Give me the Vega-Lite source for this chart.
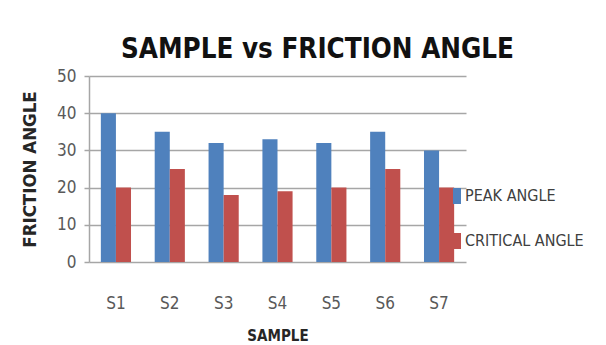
{
  "$schema": "https://vega.github.io/schema/vega-lite/v6.json",
  "width": 377,
  "height": 186,
  "autosize": {"type": "none"},
  "padding": {"left": 89, "top": 76, "right": 140, "bottom": 83},
  "background": "white",
  "title": {
    "text": "SAMPLE vs FRICTION ANGLE",
    "font": "DejaVu Sans Condensed, DejaVu Sans, sans-serif",
    "fontSize": 27.5,
    "fontWeight": "bold",
    "color": "#111111",
    "anchor": "middle",
    "dx": 40,
    "offset": 4
  },
  "data": {
    "values": [
      {"sample": "S1", "series": "PEAK ANGLE", "angle": 40},
      {"sample": "S1", "series": "CRITICAL ANGLE", "angle": 20},
      {"sample": "S2", "series": "PEAK ANGLE", "angle": 35},
      {"sample": "S2", "series": "CRITICAL ANGLE", "angle": 25},
      {"sample": "S3", "series": "PEAK ANGLE", "angle": 32},
      {"sample": "S3", "series": "CRITICAL ANGLE", "angle": 18},
      {"sample": "S4", "series": "PEAK ANGLE", "angle": 33},
      {"sample": "S4", "series": "CRITICAL ANGLE", "angle": 19},
      {"sample": "S5", "series": "PEAK ANGLE", "angle": 32},
      {"sample": "S5", "series": "CRITICAL ANGLE", "angle": 20},
      {"sample": "S6", "series": "PEAK ANGLE", "angle": 35},
      {"sample": "S6", "series": "CRITICAL ANGLE", "angle": 25},
      {"sample": "S7", "series": "PEAK ANGLE", "angle": 30},
      {"sample": "S7", "series": "CRITICAL ANGLE", "angle": 20}
    ]
  },
  "mark": {"type": "bar"},
  "encoding": {
    "x": {
      "field": "sample",
      "type": "nominal",
      "title": "SAMPLE",
      "scale": {"paddingInner": 0.44, "paddingOuter": 0.22},
      "axis": {
        "domain": false,
        "ticks": false,
        "labelAngle": 0,
        "labelPadding": 33,
        "labelFont": "DejaVu Sans Condensed, DejaVu Sans, sans-serif",
        "labelFontSize": 17,
        "labelColor": "#595959",
        "titleFont": "DejaVu Sans Condensed, DejaVu Sans, sans-serif",
        "titleFontSize": 15,
        "titleFontWeight": "bold",
        "titleColor": "#262626",
        "titlePadding": 17
      }
    },
    "xOffset": {"field": "series", "type": "nominal", "sort": ["PEAK ANGLE", "CRITICAL ANGLE"]},
    "y": {
      "field": "angle",
      "type": "quantitative",
      "title": "FRICTION ANGLE",
      "scale": {"domain": [0, 50], "nice": false},
      "axis": {
        "values": [0, 10, 20, 30, 40, 50],
        "grid": true,
        "gridColor": "#a6a6a6",
        "gridWidth": 1.5,
        "domain": true,
        "domainColor": "#a6a6a6",
        "domainWidth": 1.5,
        "ticks": true,
        "tickColor": "#a6a6a6",
        "tickSize": 5,
        "tickWidth": 1.5,
        "labelPadding": 8,
        "labelFont": "DejaVu Sans Condensed, DejaVu Sans, sans-serif",
        "labelFontSize": 17,
        "labelColor": "#595959",
        "titleFont": "DejaVu Sans Condensed, DejaVu Sans, sans-serif",
        "titleFontSize": 18.5,
        "titleFontWeight": "bold",
        "titleColor": "#262626",
        "titlePadding": 17
      }
    },
    "color": {
      "field": "series",
      "type": "nominal",
      "sort": ["PEAK ANGLE", "CRITICAL ANGLE"],
      "scale": {"domain": ["PEAK ANGLE", "CRITICAL ANGLE"], "range": ["#4f81bd", "#c0504d"]},
      "legend": {
        "title": null,
        "orient": "none",
        "legendX": 360,
        "legendY": 112,
        "padding": 0,
        "rowPadding": 29,
        "symbolType": "M -0.5 -1 L 0.5 -1 L 0.5 1 L -0.5 1 Z",
        "symbolSize": 256,
        "symbolStrokeWidth": 0,
        "labelOffset": 0,
        "labelFont": "DejaVu Sans Condensed, DejaVu Sans, sans-serif",
        "labelFontSize": 16,
        "labelColor": "#404040",
        "labelLimit": 200
      }
    }
  },
  "config": {
    "view": {"stroke": null}
  }
}
